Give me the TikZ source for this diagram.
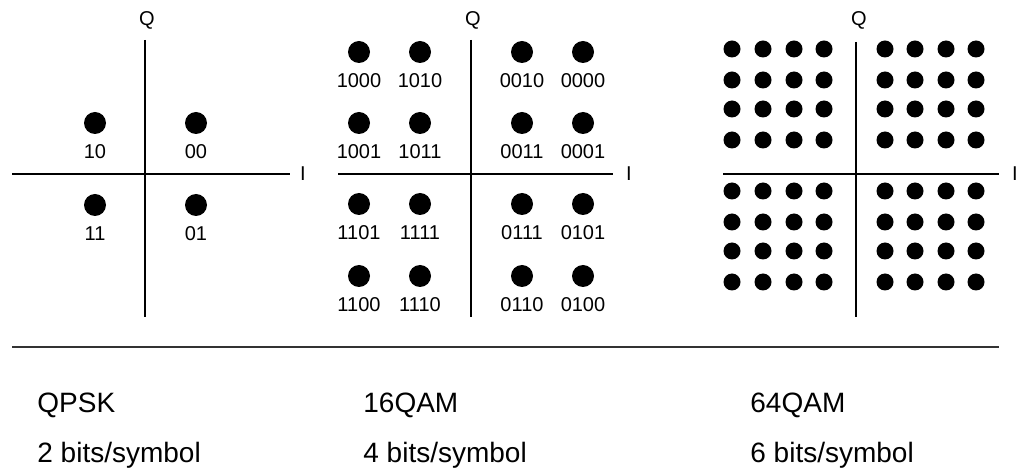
\documentclass[tikz,border=0pt]{standalone}
\usepackage{fontspec}
\setmainfont{Liberation Sans}

\tikzset{
  axisline/.style={line width=1pt},
  axislabel/.style={inner sep=0pt, font=\fontsize{10}{12}\selectfont},
  bigdot/.style={circle, fill=black, inner sep=0pt, minimum size=11pt},
  smalldot/.style={circle, fill=black, inner sep=0pt, minimum size=8.5pt},
  bits/.style={inner sep=0pt, font=\fontsize{10}{12}\selectfont},
  caption/.style={anchor=west, inner sep=0pt, font=\fontsize{14}{16}\selectfont},
}

\begin{document}
\begin{tikzpicture}[x=0.5pt, y=-0.5pt]
\useasboundingbox (0,0) rectangle (1024,470);

% QPSK
\node[axislabel] (Qa) at (147,20) {Q};
\node[axislabel] (Ia) at (303,174) {I};
\coordinate (Na) at (145,40);
\coordinate (Sa) at (145,317);
\coordinate (Wa) at (12,174);
\coordinate (Ea) at (290,174);
\draw[axisline] (Na) -- (Sa);
\draw[axisline] (Wa) -- (Ea);
\foreach \x/\y/\b [count=\k] in {95/123/10, 196/123/00, 95/205/11, 196/205/01} {
  \node[bigdot] (qp\k) at (\x,\y) {};
  \node[bits] (qp\k-b) at (\x,\y+29) {\b};
}

% 16QAM
\node[axislabel] (Qb) at (473,20) {Q};
\node[axislabel] (Ib) at (629,174) {I};
\coordinate (Nb) at (471,40);
\coordinate (Sb) at (471,317);
\coordinate (Wb) at (338,174);
\coordinate (Eb) at (613,174);
\draw[axisline] (Nb) -- (Sb);
\draw[axisline] (Wb) -- (Eb);
\foreach \x/\y/\b [count=\k] in {
  359/52/1000, 420/52/1010, 522/52/0010, 583/52/0000,
  359/123/1001, 420/123/1011, 522/123/0011, 583/123/0001,
  359/204/1101, 420/204/1111, 522/204/0111, 583/204/0101,
  359/276/1100, 420/276/1110, 522/276/0110, 583/276/0100} {
  \node[bigdot] (qa\k) at (\x,\y) {};
  \node[bits] (qa\k-b) at (\x,\y+29) {\b};
}

% 64QAM
\node[axislabel] (Qc) at (859,20) {Q};
\node[axislabel] (Ic) at (1015,174) {I};
\coordinate (Nc) at (856,42);
\coordinate (Sc) at (856,317);
\coordinate (Wc) at (723,174);
\coordinate (Ec) at (999,174);
\draw[axisline] (Nc) -- (Sc);
\draw[axisline] (Wc) -- (Ec);
\foreach \x in {732,763,794,824,885,915,946,976}
  \foreach \y in {49,80,109,140,191,222,251,282}
    \node[smalldot] (q64-\x-\y) at (\x,\y) {};

% separator and captions
\coordinate (sepw) at (12,347);
\coordinate (sepe) at (999,347);
\draw[line width=1pt, black!80] (sepw) -- (sepe);

\node[caption] (nameA) at (37,405) {QPSK};
\node[caption] (rateA) at (37,455) {2 bits/symbol};
\node[caption] (nameB) at (363,405) {16QAM};
\node[caption] (rateB) at (363,455) {4 bits/symbol};
\node[caption] (nameC) at (750,405) {64QAM};
\node[caption] (rateC) at (750,455) {6 bits/symbol};
\end{tikzpicture}
\end{document}
